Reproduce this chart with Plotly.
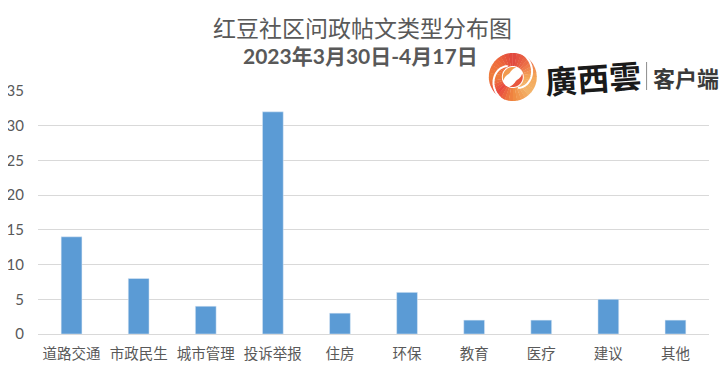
import math
import plotly.graph_objects as go

categories = ["道路交通", "市政民生", "城市管理", "投诉举报", "住房", "环保", "教育", "医疗", "建议", "其他"]
values = [14, 8, 4, 32, 3, 6, 2, 2, 5, 2]
tick_vals = [0, 5, 10, 15, 20, 25, 30, 35]
title_line_1 = "红豆社区问政帖文类型分布图"
title_line_2 = "2023年3月30日-4月17日"

CJK = "Noto Sans CJK SC"
GREY = "#595959"
# page body has an 8px margin
L, T, PW, PH = 37.5, 91, 672, 243
def px(x): return (x - L) / PW
def py(y): return (T + PH - y) / PH
def pt(cx, cy, r, deg):
    a = math.radians(deg)
    return cx + r * math.cos(a), cy - r * math.sin(a)
def poly(points, close=True):
    s = "M " + " L ".join(f"{px(x):.4f} {py(y):.4f}" for x, y in points)
    return s + (" Z" if close else "")

stops = [(-180, (238, 127, 61)), (-135, (232, 72, 63)), (-90, (240, 136, 63)), (-45, (243, 179, 106)),
         (0, (244, 169, 90)), (45, (236, 110, 70)), (90, (224, 70, 62)), (135, (238, 106, 60)), (180, (238, 127, 61))]
def colour(deg):
    for (a0, c0), (a1, c1) in zip(stops, stops[1:]):
        if a0 <= deg <= a1:
            t = (deg - a0) / (a1 - a0)
            return "rgb(%d,%d,%d)" % tuple(round(u + (v - u) * t) for u, v in zip(c0, c1))
    return "rgb(238,127,61)"

CX, CY, R = 513, 77, 24
shapes = []
for deg in range(-180, 180, 10):
    pts = [(CX, CY)] + [pt(CX, CY, R, deg + i) for i in (0, 5.5, 11)]
    shapes.append(dict(type="path", path=poly(pts), xref="paper", yref="paper",
                       fillcolor=colour(deg + 5), line_width=0, layer="above"))
# white swirl streaks
for start in (65, 245):
    pts = [pt(CX, CY, R + 1 - 13 * i / 30, start - 130 * i / 30) for i in range(31)]
    shapes.append(dict(type="path", path=poly(pts, False), xref="paper", yref="paper",
                       line=dict(color="white", width=2), layer="above"))
# white eye with two inner crescents
eye = [pt(CX, CY, 11, d) for d in range(0, 360, 12)]
shapes.append(dict(type="path", path=poly(eye), xref="paper", yref="paper", fillcolor="white", line_width=0, layer="above"))
for a0, col in ((70, "#F29A4E"), (250, "#E8573F")):
    pts = [pt(CX, CY, 10, a0 + 130 * i / 20) for i in range(21)] + \
          [pt(CX, CY, 10 - 5 * math.sin(math.pi * i / 20), a0 + 130 * i / 20) for i in range(20, -1, -1)]
    shapes.append(dict(type="path", path=poly(pts), xref="paper", yref="paper", fillcolor=col, line_width=0, layer="above"))
shapes.append(dict(type="line", xref="paper", yref="paper", x0=px(647), x1=px(647), y0=py(62), y1=py(90),
                   line=dict(color="#8C8C8C", width=1), layer="above"))

def note(text, x, y, size, color=GREY, family=CJK, angle=0):
    return dict(text=text, xref="paper", yref="paper", x=px(x), y=py(y), xanchor="center", yanchor="middle",
                showarrow=False, textangle=angle, font=dict(size=size, color=color, family=family))

fig = go.Figure(go.Bar(x=categories, y=values, marker_color="#5B9BD5", width=0.31))
fig.update_layout(
    width=719, height=366, margin=dict(l=L - 8, r=719 + 8 - L - PW, t=T - 8, b=40, autoexpand=False),
    paper_bgcolor="white", plot_bgcolor="white", showlegend=False,
    font=dict(family=CJK, size=14, color=GREY),
    xaxis=dict(type="category", tickfont=dict(size=14.5, color=GREY), ticks="",
               showline=True, linecolor="#D9D9D9", linewidth=1, ticklabelstandoff=7),
    yaxis=dict(range=[0, 35], tickvals=tick_vals, gridcolor="#D9D9D9", gridwidth=1,
               tickfont=dict(size=15, color=GREY, family="Lato"), ticks="", zeroline=False,
               ticklabelstandoff=13),
    shapes=shapes,
    annotations=[
        note(title_line_1, 362, 27, 23),
        note("<b>" + title_line_2 + "</b>", 360, 55, 21, family="Lato, " + CJK),
        note("<b>廣西雲</b>", 593, 77, 32, color="#1A1A1A", angle=-4),
        note("<b>客户端</b>", 686, 77, 22, color="#3A3A3A"),
    ],
)
fig.write_html("out.html")
